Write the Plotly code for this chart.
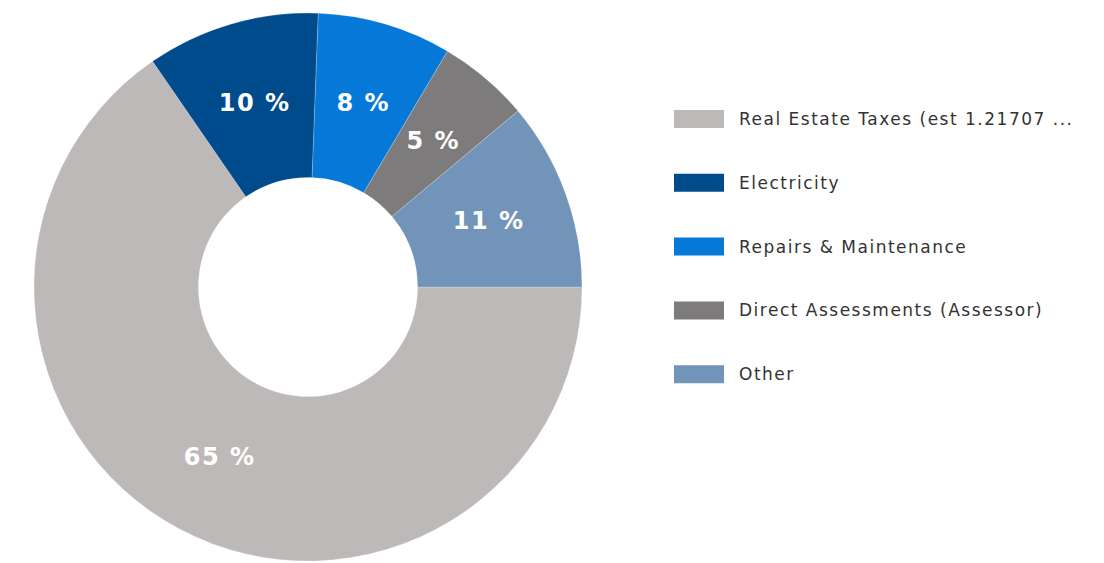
import math
import plotly.graph_objects as go

labels = ["Real Estate Taxes (est 1.21707 ...", "Electricity", "Repairs & Maintenance",
          "Direct Assessments (Assessor)", "Other"]
values = [65.4, 10.2, 7.9, 5.4, 11.1]
colors = ["#bdb9b8", "#004b8b", "#0678d8", "#7d7b7b", "#7194b8"]

W, H = 1104, 563
OFF = 8  # page body margin


def px(x):
    return (x - OFF) / W


def py(y):
    return 1 - (y - OFF) / H


# pie geometry (pixels in the page)
CX, CY, R_OUT = 308, 287, 274
HOLE = 0.40
ROT = 90  # start at 3 o'clock, clockwise

fig = go.Figure()
fig.add_trace(go.Pie(
    labels=labels, values=values, sort=False, direction="clockwise", rotation=ROT,
    hole=HOLE,
    marker=dict(colors=colors, line=dict(color="rgba(255,255,255,0.35)", width=0.6)),
    textinfo="none",
    domain=dict(x=[px(CX - R_OUT), px(CX + R_OUT)], y=[py(CY + R_OUT), py(CY - R_OUT)]),
    showlegend=False, hoverinfo="label+percent",
))

# percentage labels at the middle of each ring segment, derived from the values
total = sum(values)
r_mid = R_OUT * (1 + HOLE) / 2
cum = 0.0
for v in values:
    mid = cum + v / 2
    cum += v
    ang = math.radians(90 - ROT - 360 * mid / total)  # math angle (ccw from east)
    x = CX + r_mid * math.cos(ang)
    y = CY - r_mid * math.sin(ang)
    fig.add_annotation(xref="paper", yref="paper", x=px(x), y=py(y),
                       text=f"{round(100 * v / total)} %", showarrow=False,
                       xanchor="center", yanchor="middle",
                       font=dict(family="DejaVu Sans", size=24, color="white", weight="bold"))

# custom legend
y0, dy = 119, 63.8
for i, (lab, col) in enumerate(zip(labels, colors)):
    yc = y0 + i * dy
    fig.add_shape(type="rect", xref="paper", yref="paper",
                  x0=px(674), x1=px(724), y0=py(yc + 9), y1=py(yc - 9),
                  fillcolor=col, line=dict(width=0))
    fig.add_annotation(xref="paper", yref="paper", x=px(737), y=py(yc),
                       text=lab, showarrow=False, xanchor="left", yanchor="middle",
                       font=dict(family="DejaVu Sans", size=17, color="#333333"))

fig.update_layout(width=W, height=H, margin=dict(l=0, r=0, t=0, b=0),
                  paper_bgcolor="white", plot_bgcolor="white")

js = """
function _ls(){
  document.querySelectorAll('.annotation-text').forEach(function(e){
    if (e.getAttribute('data-ls')) return;
    var big = parseFloat(e.style.fontSize) > 20;
    var w0 = e.getBBox().width;
    e.style.letterSpacing = big ? '1.5px' : '1.5px';
    var w1 = e.getBBox().width;
    if (!big) { e.setAttribute('transform', 'translate(' + ((w1 - w0) / 2) + ',0)'); }
    else { e.setAttribute('transform', 'translate(' + (0.75) + ',0)'); }
    e.setAttribute('data-ls', '1');
  });
}
_ls(); setTimeout(_ls, 0); setTimeout(_ls, 200);
"""
fig.write_html("out.html", post_script=js)
